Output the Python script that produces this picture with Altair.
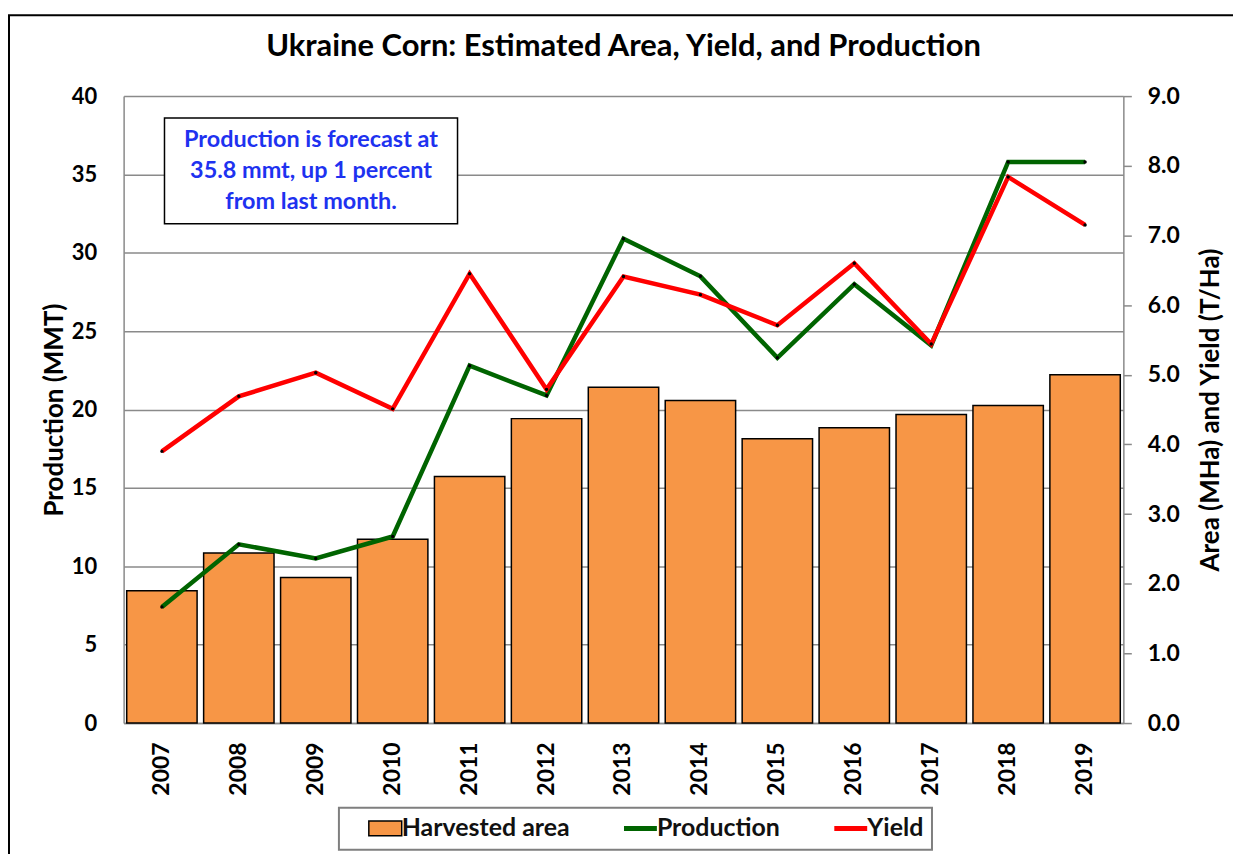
import altair as alt
import pandas as pd

years = ["2007", "2008", "2009", "2010", "2011", "2012", "2013",
         "2014", "2015", "2016", "2017", "2018", "2019"]
area = [1.90, 2.44, 2.09, 2.64, 3.54, 4.37, 4.82, 4.63, 4.08, 4.24, 4.43, 4.56, 5.00]
production = [7.4, 11.4, 10.5, 11.9, 22.8, 20.9, 30.9, 28.5, 23.3, 28.0, 24.1, 35.8, 35.8]
yields = [3.90, 4.69, 5.03, 4.51, 6.45, 4.79, 6.41, 6.15, 5.71, 6.60, 5.44, 7.84, 7.15]

series = ["Harvested area", "Production", "Yield"]
series_colors = ["#F79646", "#006400", "#FF0000"]
note_lines = ["Production is forecast at", "35.8 mmt, up 1 percent", "from last month."]
chart_title = "Ukraine Corn: Estimated Area, Yield, and Production"
left_ticks = [0, 5, 10, 15, 20, 25, 30, 35, 40]
right_ticks = [0, 1, 2, 3, 4, 5, 6, 7, 8, 9]

df = pd.DataFrame({"year": years, "area": area, "production": production, "yield": yields})

FONT = "Lato"
GRAY = "#8a8a8a"

x_enc = alt.X(
    "year:N",
    sort=years,
    scale=alt.Scale(paddingInner=0.085, paddingOuter=0.04),
    axis=alt.Axis(title=None, labelAngle=270, ticks=False, tickSize=0, labelPadding=19,
                  labelFont=FONT, labelFontWeight="bold", labelFontSize=23, labelColor="black",
                  domainColor=GRAY, domainWidth=1.5),
)

line_color_expr = " : ".join(
    [f"datum.value === '{s}' ? '{c}'" for s, c in zip(series[1:], series_colors[1:])]
) + " : 'black'"

legend = alt.Legend(
    title=None, orient="none", legendX=216, legendY=714, direction="horizontal",
    symbolType={"expr": f"datum.value === '{series[0]}' ? 'M-1,-0.45H1V0.45H-1Z' : 'stroke'"},
    symbolStrokeColor={"expr": line_color_expr},
    symbolStrokeWidth={"expr": f"datum.value === '{series[0]}' ? 1.5 : 5"},
    symbolSize=1089, symbolOffset=26, symbolOpacity=1,
    labelFont=FONT, labelFontSize=25, labelFontWeight="bold", labelColor="#111111",
    labelOffset=4, labelLimit=400, columnPadding=32, padding=8,
    strokeColor="#7f7f7f", fillColor="white",
)

bars = alt.Chart(df).mark_bar(stroke="black", strokeWidth=1.5, opacity=1).encode(
    x=x_enc,
    y=alt.Y("area:Q", scale=alt.Scale(domain=[0, 9], nice=False),
            axis=alt.Axis(orient="right", values=right_ticks, format=".1f", grid=False,
                          tickColor=GRAY, tickSize=8, tickWidth=1.5, domainColor=GRAY,
                          domainWidth=1.5, labelPadding=16, labelFont=FONT,
                          labelFontWeight="bold", labelFontSize=23, labelColor="black",
                          title="Area (MHa) and Yield (T/Ha)", titleAngle=270,
                          titleBaseline="top", titleFont=FONT, titleFontSize=26,
                          titleFontWeight="bold", titleColor="black", titlePadding=18)),
    color=alt.Color("series:N", scale=alt.Scale(domain=series, range=series_colors), legend=legend),
).transform_calculate(series=f"'{series[0]}'")

prod_y = alt.Y("production:Q", scale=alt.Scale(domain=[0, 40], nice=False),
               axis=alt.Axis(orient="left", values=left_ticks, grid=True, gridColor=GRAY,
                             gridWidth=1.5, ticks=False, tickSize=0, domainColor=GRAY,
                             domainWidth=1.5, labelPadding=27, labelFont=FONT,
                             labelFontWeight="bold", labelFontSize=22, labelColor="black",
                             title="Production (MMT)", titleFont=FONT, titleFontSize=26,
                             titleFontWeight="bold", titleColor="black", titlePadding=4))

prod_line = alt.Chart(df).mark_line(color=series_colors[1], strokeWidth=4.5).encode(x=x_enc, y=prod_y)
prod_pts = alt.Chart(df).mark_point(filled=True, size=12, color="black", opacity=1).encode(
    x=x_enc, y=alt.Y("production:Q", scale=alt.Scale(domain=[0, 40], nice=False), axis=None))

yield_y = alt.Y("yield:Q", scale=alt.Scale(domain=[0, 9], nice=False), axis=None)
yield_line = alt.Chart(df).mark_line(color=series_colors[2], strokeWidth=4.5).encode(x=x_enc, y=yield_y)
yield_pts = alt.Chart(df).mark_point(filled=True, size=12, color="black", opacity=1).encode(x=x_enc, y=yield_y)

one = pd.DataFrame({"k": [0]})
note_box = alt.Chart(one).mark_rect(fill="white", stroke="black", strokeWidth=1.5).encode(
    x=alt.value(41), x2=alt.value(335), y=alt.value(22), y2=alt.value(128))
note_text = alt.Chart(one).mark_text(
    text=note_lines, font=FONT, fontSize=23.5, fontWeight="bold", color="#1E32F0",
    align="center", baseline="middle", lineHeight=31).encode(x=alt.value(188), y=alt.value(44))

frame = alt.Chart(one).mark_rect(fillOpacity=0, stroke="black", strokeWidth=2).encode(
    x=alt.value(-115), x2=alt.value(1200), y=alt.value(-81), y2=alt.value(900))

chart = alt.layer(
    frame, bars, prod_line, prod_pts, yield_line, yield_pts, note_box, note_text
).resolve_scale(y="independent").properties(
    width=1003, height=629,
    title=alt.Title(chart_title, font=FONT, fontSize=31, fontWeight="bold", color="black",
                    anchor="middle", frame="group", baseline="alphabetic", offset=-73),
    autosize=alt.AutoSizeParams(type="none"),
    padding={"left": 116, "top": 87, "right": 110, "bottom": 130},
).configure_view(stroke=None).configure_legend(strokeWidth=2)

chart.save("out.html", embed_options={"renderer": "svg", "actions": False})
